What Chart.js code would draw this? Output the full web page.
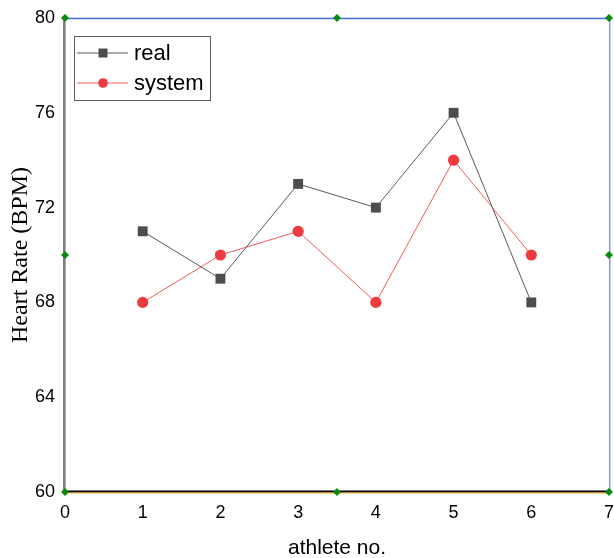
<!DOCTYPE html>
<html>
<head>
<meta charset="utf-8">
<script src="https://cdn.jsdelivr.net/npm/chart.js@4/dist/chart.umd.min.js"></script>
<style>
  html, body { margin: 0; padding: 0; background: #fff; }
  #wrap { width: 614px; height: 558px; }
</style>
</head>
<body>
<div id="wrap"><canvas id="hr" width="614" height="558"></canvas></div>
<script>
// values
const athletes = [1, 2, 3, 4, 5, 6];
const realBpm = [71, 69, 73, 72, 76, 68];
const systemBpm = [68, 70, 71, 68, 74, 70];
const xTicks = [0, 1, 2, 3, 4, 5, 6, 7];
const yTicks = [60, 64, 68, 72, 76, 80];
const seriesNames = ['real', 'system'];

let toPoints = (vals) => athletes.map((a, i) => ({ x: a, y: vals[i] }));

// frame lines + little green handles, like the original plot window
let framePlugin = {
    id: 'frame',
    afterDraw(chart) {
        let { ctx, chartArea: a } = chart;
        let l = a.left, r = a.right, t = a.top, b = a.bottom;
        ctx.save();
        // left axis: grey with orange edge
        ctx.fillStyle = '#808080';
        ctx.fillRect(l - 2, t, 2, b - t);
        ctx.fillStyle = '#e8a317';
        ctx.fillRect(l, t, 1, b - t);
        // bottom axis: black with orange under
        ctx.fillStyle = '#000';
        ctx.fillRect(l, b - 1.5, r - l, 2);
        ctx.fillStyle = '#e8a317';
        ctx.fillRect(l, b + 0.5, r - l, 1);
        // top and right: blue
        ctx.fillStyle = '#c8d4f8';
        ctx.fillRect(l, t - 1, r - l, 1);
        ctx.fillStyle = '#4169e1';
        ctx.fillRect(l, t, r - l, 1.2);
        ctx.fillStyle = '#7b9cff';
        ctx.fillRect(r, t, 1.5, b - t);

        let mx = (l + r) / 2, my = (t + b) / 2;
        let handles = [[l, t], [mx, t], [r, t], [l, my], [r, my], [l, b], [mx, b], [r, b]];
        ctx.fillStyle = '#0a8a0a';
        handles.forEach(([x, y]) => {
            ctx.beginPath();
            ctx.moveTo(x, y - 4);
            ctx.lineTo(x + 4, y);
            ctx.lineTo(x, y + 4);
            ctx.lineTo(x - 4, y);
            ctx.closePath();
            ctx.fill();
        });
        ctx.restore();
    }
};

// boxed legend in the upper-left corner of the plot
let legendBoxPlugin = {
    id: 'legendBox',
    afterDraw(chart) {
        let { ctx, chartArea: a } = chart;
        let x0 = a.left + 9, y0 = a.top + 18;
        let w = 136, h = 64;
        ctx.save();
        ctx.fillStyle = '#fff';
        ctx.fillRect(x0, y0, w, h);
        ctx.strokeStyle = '#606060';
        ctx.lineWidth = 1;
        ctx.strokeRect(x0 + 0.5, y0 + 0.5, w, h);

        chart.data.datasets.forEach((ds, i) => {
            let y = y0 + 17 + i * 30;
            ctx.strokeStyle = ds.borderColor;
            ctx.lineWidth = 1;
            ctx.beginPath();
            ctx.moveTo(x0 + 3, y);
            ctx.lineTo(x0 + 54, y);
            ctx.stroke();
            ctx.fillStyle = ds.pointBackgroundColor;
            if (ds.pointStyle === 'rect') {
                ctx.fillRect(x0 + 24.5, y - 4.5, 9, 9);
            } else {
                ctx.beginPath();
                ctx.arc(x0 + 29, y, 4.8, 0, Math.PI * 2);
                ctx.fill();
            }
            ctx.fillStyle = '#000';
            ctx.font = '22px "Liberation Sans", Arial, sans-serif';
            ctx.textBaseline = 'middle';
            ctx.fillText(ds.label, x0 + 60, y + 1);
        });
        ctx.restore();
    }
};

new Chart(document.getElementById('hr'), {
    type: 'scatter',
    data: {
        datasets: [
            {
                label: seriesNames[0],
                data: toPoints(realBpm),
                showLine: true,
                borderColor: '#5a5a5a',
                borderWidth: 1,
                pointStyle: 'rect',
                pointRadius: 7,
                pointBackgroundColor: '#4d4d4d',
                pointBorderColor: '#4d4d4d',
                pointBorderWidth: 0
            },
            {
                label: seriesNames[1],
                data: toPoints(systemBpm),
                showLine: true,
                borderColor: '#f25a5a',
                borderWidth: 1,
                pointStyle: 'circle',
                pointRadius: 5.6,
                pointBackgroundColor: '#ef3b40',
                pointBorderColor: '#ef3b40',
                pointBorderWidth: 0
            }
        ]
    },
    options: {
        responsive: false,
        animation: false,
        layout: { autoPadding: false, padding: { top: 18, right: 5, left: 0, bottom: 0 } },
        plugins: {
            legend: { display: false },
            tooltip: { enabled: false }
        },
        scales: {
            x: {
                type: 'linear',
                min: 0,
                max: 7,
                afterBuildTicks: (s) => { s.ticks = xTicks.map(v => ({ value: v })); },
                afterFit: (s) => {
                    s.height = 66;
                    s.paddingLeft = 0;
                    s.paddingRight = 0;
                },
                grid: { display: false, drawTicks: false },
                border: { display: false },
                ticks: {
                    padding: 10,
                    color: '#000',
                    font: { family: '"Liberation Sans", Arial, sans-serif', size: 18 }
                },
                title: {
                    display: true,
                    text: 'athlete no.',
                    color: '#000',
                    padding: { top: 0, bottom: -1 },
                    font: { family: '"Liberation Sans", Arial, sans-serif', size: 21, lineHeight: 1 }
                }
            },
            y: {
                min: 60,
                max: 80,
                afterBuildTicks: (s) => { s.ticks = yTicks.map(v => ({ value: v })); },
                afterFit: (s) => {
                    s.width = 65;
                    s.paddingTop = 0;
                    s.paddingBottom = 0;
                },
                grid: { display: false, drawTicks: false },
                border: { display: false },
                ticks: {
                    padding: 10,
                    color: '#000',
                    font: { family: '"Liberation Sans", Arial, sans-serif', size: 18 }
                },
                title: {
                    display: true,
                    text: 'Heart Rate (BPM)',
                    color: '#000',
                    padding: { top: 9, bottom: 0 },
                    font: { family: '"Liberation Serif", "Times New Roman", serif', size: 24, lineHeight: 1 }
                }
            }
        }
    },
    plugins: [framePlugin, legendBoxPlugin]
});
</script>
</body>
</html>
